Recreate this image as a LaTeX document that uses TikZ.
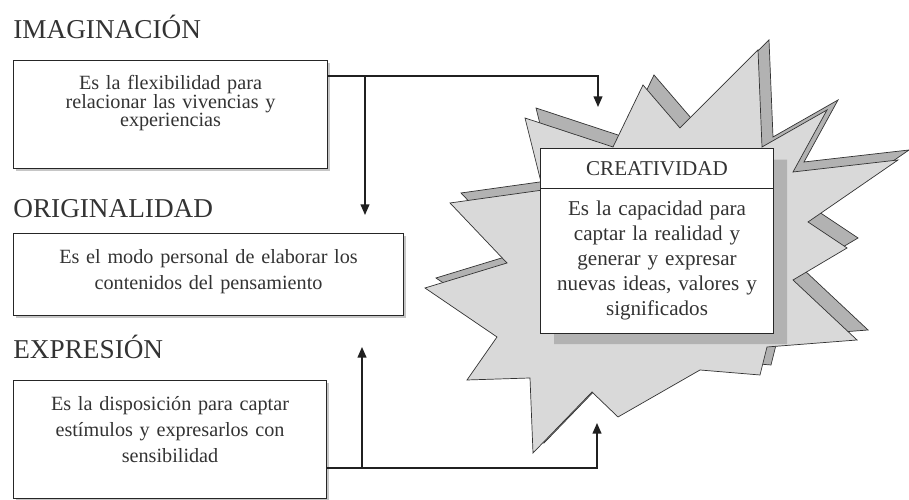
\documentclass[tikz,border=0pt]{standalone}
\usepackage{fontspec}
\setmainfont{Liberation Serif}
\usetikzlibrary{arrows.meta,shapes.multipart,shadows}

\newcommand{\burst}{(8.50,4.24) -- (10.14,4.74) -- (9.00,5.94) -- (10.86,6.20)
  -- (10.50,7.64) -- (12.26,7.06) -- (12.86,8.30) -- (13.60,7.44)
  -- (15.16,9.00) -- (15.24,7.06) -- (16.54,7.80) -- (15.86,6.56)
  -- (17.96,6.80) -- (16.16,5.56) -- (16.94,5.04) -- (15.86,4.40)
  -- (17.14,3.20) -- (15.34,3.06) -- (15.20,2.50) -- (14.00,2.60)
  -- (12.36,1.66) -- (11.84,2.16) -- (10.66,0.94) -- (10.60,2.44)
  -- (9.34,2.40) -- (9.94,3.26) -- cycle}

\tikzset{
  every node/.style={text=black!80},
  heading/.style={anchor=base west, inner sep=0pt, font=\fontsize{15.5}{16}\selectfont},
  textbox/.style={draw=gray!30!black, line width=0.6pt, fill=white, anchor=north west,
    inner sep=0pt, align=center,
    drop shadow={shadow xshift=1.5pt, shadow yshift=-1.5pt, fill=gray!45, opacity=1}},
  creabox/.style={rectangle split, rectangle split parts=2, draw=gray!30!black,
    line width=0.6pt, fill=white, anchor=north west, inner xsep=0pt, inner ysep=7pt,
    text width=4.66cm, align=center, font=\fontsize{12}{14.2}\selectfont,
    drop shadow={shadow xshift=0.27cm, shadow yshift=-0.22cm, fill=gray!60, opacity=1}},
  conn/.style={draw=gray!25!black, line width=0.8pt, -{Triangle[length=6pt,width=5pt]}},
  burstback/.style={fill=gray!60, draw=gray!40!black, line width=0.4pt},
  burstfront/.style={fill=gray!30, draw=gray!40!black, line width=0.4pt}
}

\begin{document}
\begin{tikzpicture}
        % Page
        \path[fill=white, use as bounding box] (0,0) rectangle (18.18,10);
        % Starburst
        \begin{scope}[shift={(0.22,0.2)}]
          \path[burstback] \burst;
        \end{scope}
        \path[burstfront] \burst;
        % Nodes
        \node[heading] (himag) at (0.26, 9.22) {IMAGINACIÓN};
        \node[heading] (horig) at (0.26, 5.64) {ORIGINALIDAD};
        \node[heading] (hexpr) at (0.26, 2.82) {EXPRESIÓN};
        \node[textbox, text width=6.28cm, text height=0.58cm, text depth=1.58cm,
          font=\fontsize{11.5}{10.6}\selectfont] (bimag) at (0.26, 8.80)
          {Es la flexibilidad para\\ relacionar las vivencias y\\ experiencias};
        \node[textbox, text width=7.80cm, text height=0.60cm, text depth=1.04cm,
          font=\fontsize{11.5}{14.7}\selectfont] (borig) at (0.26, 5.34)
          {Es el modo personal de elaborar los\\ contenidos del pensamiento};
        \node[textbox, text width=6.26cm, text height=0.60cm, text depth=1.76cm,
          font=\fontsize{11.5}{14.7}\selectfont] (bexpr) at (0.26, 2.40)
          {Es la disposición para captar\\ estímulos y expresarlos con\\ sensibilidad};
        \node[creabox] (creat) at (10.80, 7.04)
          {CREATIVIDAD
           \nodepart{two} Es la capacidad para\\ captar la realidad y\\ generar y expresar\\
           nuevas ideas, valores y\\ significados};
        \coordinate (ja) at (7.30, 8.48);
        \coordinate (ta) at (11.96, 7.86);
        \coordinate (tb) at (7.30, 5.70);
        \coordinate (jb) at (7.24, 0.64);
        \coordinate (tc) at (11.94, 1.54);
        \coordinate (td) at (7.24, 3.06);
        % Edges
        \draw[conn] (bimag.east |- ja) -| (ta);
        \draw[conn] (ja) -- (tb);
        \draw[conn] (bexpr.east |- jb) -| (tc);
        \draw[conn] (jb) -- (td);
    \end{tikzpicture}
\end{document}
